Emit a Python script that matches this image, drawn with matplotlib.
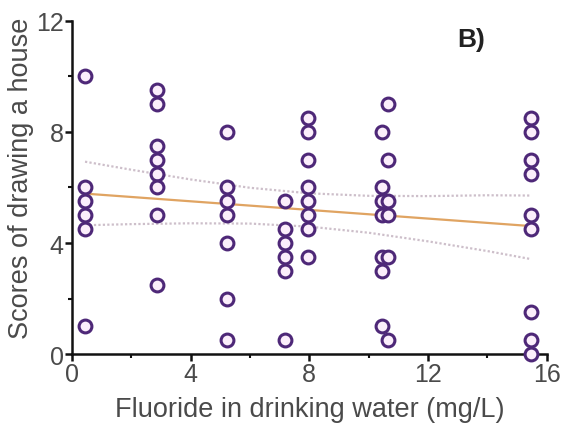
import matplotlib
matplotlib.use("Agg")
import matplotlib.pyplot as plt
from matplotlib.ticker import MultipleLocator

# Data
x_col1 = [0.44] * 6
y_col1 = [10.0, 6.0, 5.5, 5.0, 4.5, 1.0]
x_col2 = [2.88] * 8
y_col2 = [9.5, 9.0, 7.5, 7.0, 6.5, 6.0, 5.0, 2.5]
x_col3 = [5.24] * 7
y_col3 = [8.0, 6.0, 5.5, 5.0, 4.0, 2.0, 0.5]
x_col4 = [7.19] * 6
y_col4 = [5.5, 4.5, 4.0, 3.5, 3.0, 0.5]
x_col5 = [7.96] * 8
y_col5 = [8.5, 8.0, 7.0, 6.0, 5.5, 5.0, 4.5, 3.5]
x_col6 = [10.66, 10.46, 10.66, 10.46, 10.46, 10.66, 10.46, 10.66, 10.46, 10.66, 10.46, 10.46, 10.66]
y_col6 = [9.0, 8.0, 7.0, 6.0, 5.5, 5.5, 5.0, 5.0, 3.5, 3.5, 3.0, 1.0, 0.5]
x_col7 = [15.47] * 9
y_col7 = [8.5, 8.0, 7.0, 6.5, 5.0, 4.5, 1.5, 0.5, 0.0]

xs = x_col1 + x_col2 + x_col3 + x_col4 + x_col5 + x_col6 + x_col7
ys = y_col1 + y_col2 + y_col3 + y_col4 + y_col5 + y_col6 + y_col7

# Regression line and confidence band
reg_x = [0.44, 15.47]
reg_y = [5.78, 4.61]
ci_x = [0.44, 2, 4, 6, 8, 10, 12, 14, 15.47]
ci_upper = [6.93, 6.64, 6.29, 5.99, 5.79, 5.70, 5.69, 5.72, 5.71]
ci_lower = [4.64, 4.68, 4.71, 4.70, 4.59, 4.37, 4.06, 3.71, 3.42]

x_ticks = [0, 4, 8, 12, 16]
y_ticks = [0, 4, 8, 12]

plt.rcParams['font.family'] = ['Liberation Sans', 'DejaVu Sans']

fig = plt.figure(figsize=(5.61, 4.31), dpi=100)
ax = fig.add_axes([0.1283, 0.1763, 0.8462, 0.7727])

ax.plot(ci_x, ci_upper, linestyle=(0, (1, 1)), color='#cdbfca', lw=1.6, zorder=2)
ax.plot(ci_x, ci_lower, linestyle=(0, (1, 1)), color='#cdbfca', lw=1.6, zorder=2)
ax.plot(reg_x, reg_y, color='#e0a462', lw=1.6, zorder=3)
ax.scatter(xs, ys, s=85, facecolors='#fbeefb', edgecolors='#4e2878',
           linewidths=2.2, zorder=4, clip_on=False)

ax.set_xlim(0, 16)
ax.set_ylim(0, 12)
ax.set_xticks(x_ticks)
ax.set_yticks(y_ticks)
ax.xaxis.set_minor_locator(MultipleLocator(2))
ax.yaxis.set_minor_locator(MultipleLocator(2))

for s in ['top', 'right']:
    ax.spines[s].set_visible(False)
for s in ['left', 'bottom']:
    ax.spines[s].set_linewidth(1.8)
    ax.spines[s].set_color('#111111')

ax.tick_params(which='major', direction='out', length=5, width=1.8,
               labelsize=18, colors='#111111', labelcolor='#4a4a4a', pad=1)
ax.tick_params(which='minor', direction='out', length=3, width=1.5, colors='#111111')

ax.set_xlabel('Fluoride in drinking water (mg/L)', fontsize=19.5, color='#4a4a4a')
ax.set_ylabel('Scores of drawing a house', fontsize=19.5, color='#4a4a4a',
              va='center')
ax.xaxis.set_label_coords(0.5, -0.125)
ax.yaxis.set_label_coords(-0.108, 0.53)

ax.text(471, 431 - 40, 'B)', transform=None, fontsize=19, fontweight='bold',
        color='#222222', ha='center', va='center')

fig.savefig('out.png', dpi=100)
